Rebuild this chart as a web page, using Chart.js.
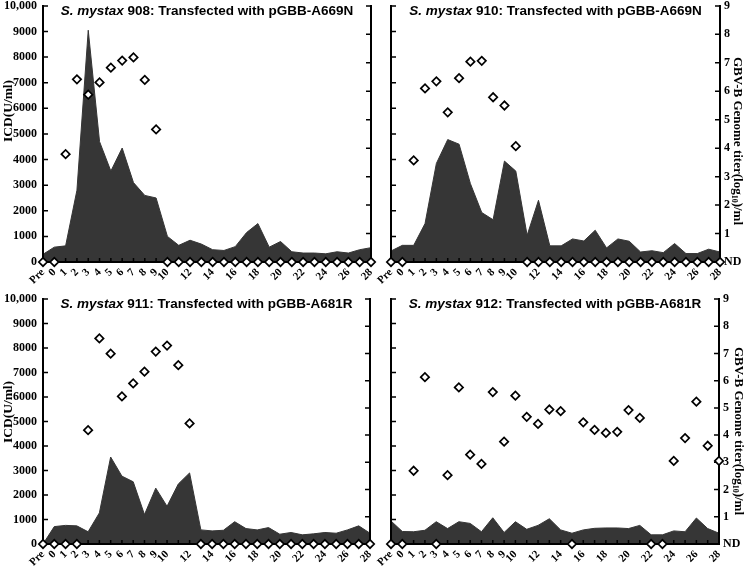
<!DOCTYPE html>
<html>
<head>
<meta charset="utf-8">
<script src="https://cdn.jsdelivr.net/npm/chart.js@4.4.1/dist/chart.umd.min.js"></script>
<style>
  html, body { margin: 0; padding: 0; background: #fff; }
  #wrap { position: relative; width: 750px; height: 568px; overflow: hidden; }
  #wrap canvas { position: absolute; }
</style>
</head>
<body>
<div id="wrap">
  <canvas id="c908"></canvas>
  <canvas id="c910"></canvas>
  <canvas id="c911"></canvas>
  <canvas id="c912"></canvas>
</div>
<script>
// ---- data (days after transfection) ----
const days = ['Pre','0','1','2','3','4','5','6','7','8','9','10','11','12','13','14',
              '15','16','17','18','19','20','21','22','23','24','25','26','27','28'];
const shownDays = ['Pre','0','1','2','3','4','5','6','7','8','9','10','12','14','16',
                   '18','20','22','24','26','28'];

// ICD (U/ml), left axis
const icd908 = [300, 580, 630, 2800, 9050, 4700, 3550, 4450, 3100, 2600, 2500, 1000, 650, 850, 700,
                480, 450, 600, 1150, 1500, 580, 800, 400, 350, 350, 320, 400, 350, 480, 560];
const icd910 = [430, 650, 650, 1500, 3850, 4780, 4600, 3060, 1930, 1650, 3940, 3550, 1040, 2410, 630,
                630, 900, 820, 1240, 550, 900, 810, 390, 440, 365, 720, 330, 330, 500, 390];
const icd911 = [0, 710, 760, 740, 500, 1270, 3550, 2770, 2540, 1200, 2280, 1540, 2450, 2900, 576,
                535, 560, 910, 630, 575, 670, 400, 470, 375, 415, 470, 440, 575, 740, 440];
const icd912 = [940, 510, 500, 560, 910, 630, 910, 840, 500, 1070, 470, 910, 600, 760, 1030,
                575, 440, 575, 640, 655, 655, 630, 760, 375, 375, 535, 500, 1060, 630, 440];

// GBV-B genome titer (log10/ml), right axis; 0 = ND
const gen908 = [0, 0, 3.79, 6.42, 5.88, 6.31, 6.83, 7.08, 7.19, 6.40, 4.66, 0, 0, 0, 0,
                0, 0, 0, 0, 0, 0, 0, 0, 0, 0, 0, 0, 0, 0, 0];
const gen910 = [0, 0, 3.57, 6.10, 6.35, 5.26, 6.46, 7.04, 7.07, 5.79, 5.50, 4.07, 0, 0, 0,
                0, 0, 0, 0, 0, 0, 0, 0, 0, 0, 0, 0, 0, 0, 0];
const gen911 = [0, 0, 0, 0, 4.18, 7.55, 6.99, 5.42, 5.90, 6.33, 7.07, 7.29, 6.57, 4.43, 0,
                0, 0, 0, 0, 0, 0, 0, 0, 0, 0, 0, 0, 0, 0, 0];
const gen912 = [0, 0, 2.69, 6.13, 0, 2.53, 5.75, 3.28, 2.94, 5.58, 3.76, 5.45, 4.67, 4.41, 4.94,
                4.88, 0, 4.47, 4.19, 4.08, 4.12, 4.92, 4.63, 0, 0, 3.05, 3.89, 5.23, 3.61, 3.05];

const titles = {
  c908: '908: Transfected with pGBB-A669N',
  c910: '910: Transfected with pGBB-A669N',
  c911: '911: Transfected with pGBB-A681R',
  c912: '912: Transfected with pGBB-A681R',
};

const SERIF = '"Liberation Serif", "Times New Roman", serif';
const SANS  = '"Liberation Sans", Arial, sans-serif';
const AREA  = '#363636';

// draws axis lines + inward ticks right after the area, before the diamonds
const axesPlugin = {
  id: 'axes',
  afterDatasetDraw(chart, args) {
    if (args.index !== 1) return;
    const { ctx, chartArea: a, scales } = chart;
    ctx.save();
    ctx.strokeStyle = '#000';
    ctx.lineWidth = 2;
    ctx.lineCap = 'square';
    ctx.beginPath();
    ctx.moveTo(a.left, a.top); ctx.lineTo(a.left, a.bottom);
    ctx.lineTo(a.right, a.bottom); ctx.lineTo(a.right, a.top);
    ctx.stroke();
    ctx.lineWidth = 1.5;
    ctx.lineCap = 'butt';
    ctx.beginPath();
    scales.x.ticks.forEach((t, i) => {
      const x = scales.x.getPixelForTick(i);
      ctx.moveTo(x, a.bottom); ctx.lineTo(x, a.bottom - 4);
    });
    scales.y.ticks.forEach(t => {
      const y = scales.y.getPixelForValue(t.value);
      ctx.moveTo(a.left, y); ctx.lineTo(a.left + 5, y);
    });
    scales.y2.ticks.forEach(t => {
      const y = scales.y2.getPixelForValue(t.value);
      ctx.moveTo(a.right, y); ctx.lineTo(a.right - 5, y);
    });
    ctx.stroke();
    ctx.restore();
  },
  afterDraw(chart, args, o) {
    const { ctx, chartArea: a } = chart;
    ctx.save();
    ctx.fillStyle = '#000';
    // panel title: italic genus + bold rest
    const f1 = 'italic bold 13.5px ' + SANS, f2 = 'bold 13.5px ' + SANS;
    const p1 = 'S. mystax ', p2 = o.title;
    ctx.font = f1; const w1 = ctx.measureText(p1).width;
    ctx.font = f2; const w2 = ctx.measureText(p2).width;
    let x = (a.left + a.right) / 2 - (w1 + w2) / 2;
    const yb = a.top + o.titleDy;
    ctx.textBaseline = 'alphabetic'; ctx.textAlign = 'left';
    ctx.font = f1; ctx.fillText(p1, x, yb);
    ctx.font = f2; ctx.fillText(p2, x + w1, yb);

    if (o.leftTitle) {
      ctx.save();
      ctx.translate(o.leftTitle.x, o.leftTitle.y);
      ctx.rotate(-Math.PI / 2);
      ctx.font = 'bold 13.5px ' + SERIF;
      ctx.textAlign = 'center'; ctx.textBaseline = 'middle';
      ctx.fillText('ICD(U/ml)', 0, 0);
      ctx.restore();
    }
    if (o.rightTitle) {
      ctx.save();
      ctx.translate(o.rightTitle.x, o.rightTitle.y);
      ctx.rotate(Math.PI / 2);
      const big = 'bold 13px ' + SERIF, small = 'bold 8px ' + SERIF;
      const s1 = 'GBV-B Genome titer(log', s2 = '10', s3 = ')/ml';
      ctx.font = big; const a1 = ctx.measureText(s1).width, a3 = ctx.measureText(s3).width;
      ctx.font = small; const a2 = ctx.measureText(s2).width;
      let tx = -(a1 + a2 + a3) / 2;
      ctx.textBaseline = 'middle'; ctx.textAlign = 'left';
      ctx.font = big; ctx.fillText(s1, tx, 0); tx += a1;
      ctx.font = small; ctx.fillText(s2, tx, 3); tx += a2;
      ctx.font = big; ctx.fillText(s3, tx, 0);
      ctx.restore();
    }
    ctx.restore();
  }
};

function panel(id, icd, gen, box, side) {
  const cv = document.getElementById(id);
  cv.width = box.w; cv.height = box.h;
  cv.style.left = box.left + 'px'; cv.style.top = box.top + 'px';
  const yw  = box.l - box.left;
  const y2w = box.left + box.w - box.r;
  const xh  = box.top + box.h - box.b;
  const pad = box.t - box.top;
  return new Chart(cv, {
    type: 'line',
    data: {
      labels: days,
      datasets: [
        { data: gen, yAxisID: 'y2', showLine: false, pointStyle: 'rectRot', pointRadius: 4.2,
          pointBackgroundColor: '#fff', pointBorderColor: '#000', pointBorderWidth: 1.7,
          clip: false, order: 0 },
        { data: icd, yAxisID: 'y', fill: 'origin', backgroundColor: AREA, borderColor: AREA,
          borderWidth: 1, pointRadius: 0, tension: 0, order: 1 }
      ]
    },
    options: {
      responsive: false, animation: false, events: [],
      layout: { padding: { top: pad, left: 0, right: 0, bottom: 0 } },
      plugins: {
        legend: { display: false }, tooltip: { enabled: false },
        axes: {
          title: titles[id], titleDy: box.titleDy,
          leftTitle: side === 'left' ? box.yTitle : null,
          rightTitle: side === 'right' ? box.yTitle : null,
        }
      },
      scales: {
        x: {
          offset: false,
          grid: { display: false, drawTicks: false }, border: { display: false },
          ticks: {
            autoSkip: false, minRotation: 45, maxRotation: 45, padding: 4, color: '#000',
            font: { family: SERIF, weight: 'bold', size: 11 },
            callback: (v, i) => shownDays.includes(days[i]) ? days[i] : ''
          },
          afterFit: s => { s.height = xh; s.paddingLeft = 0; s.paddingRight = 0; }
        },
        y: {
          min: 0, max: 10000,
          grid: { display: false, drawTicks: false }, border: { display: false },
          ticks: {
            display: side === 'left', stepSize: 1000, padding: 6, color: '#000',
            font: { family: SERIF, weight: 'bold', size: 12 },
            callback: v => v === 10000 ? '10,000' : String(v)
          },
          afterFit: s => { s.width = yw; s.paddingTop = 0; s.paddingBottom = 0; }
        },
        y2: {
          position: 'right', min: 0, max: 9,
          grid: { display: false, drawTicks: false }, border: { display: false },
          ticks: {
            display: side === 'right', stepSize: 1, padding: 4, color: '#000',
            font: { family: SERIF, weight: 'bold', size: 12 },
            callback: v => v === 0 ? 'ND' : String(v)
          },
          afterFit: s => { s.width = y2w; s.paddingTop = 0; s.paddingBottom = 0; }
        }
      }
    },
    plugins: [axesPlugin]
  });
}

// page-pixel boxes: canvas (left, top, w, h) and plot area (l, r, t, b)
panel('c908', icd908, gen908,
  { left: 0, top: 0, w: 390, h: 292, l: 43, r: 371, t: 5, b: 262, titleDy: 9, yTitle: { x: 9, y: 111 } }, 'left');
panel('c910', icd910, gen910,
  { left: 365, top: 0, w: 385, h: 292, l: 391, r: 720, t: 5, b: 262, titleDy: 9, yTitle: { x: 372, y: 141 } }, 'right');
panel('c911', icd911, gen911,
  { left: 0, top: 290, w: 390, h: 278, l: 43, r: 370, t: 299, b: 544, titleDy: 9, yTitle: { x: 9, y: 122 } }, 'left');
panel('c912', icd912, gen912,
  { left: 365, top: 290, w: 385, h: 278, l: 391, r: 719, t: 299, b: 544, titleDy: 9, yTitle: { x: 373, y: 141 } }, 'right');
</script>
</body>
</html>
